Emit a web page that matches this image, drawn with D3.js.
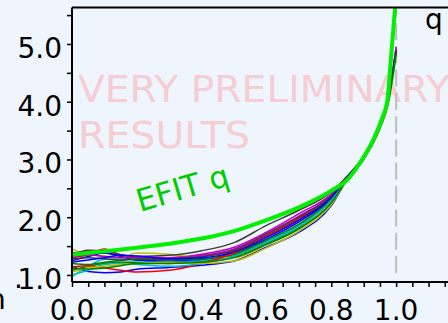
<!DOCTYPE html>
<html>
<head>
<meta charset="utf-8">
<script src="https://cdn.jsdelivr.net/npm/d3@7"></script>
<style>
  html, body { margin: 0; padding: 0; background: #eff5fd; }
  svg { display: block; }
  text { font-family: "DejaVu Sans", sans-serif; }
</style>
</head>
<body>
<script>
// Normalised radius grid shared by the reconstructed q profiles
const rhoGrid = [0, 0.05, 0.1, 0.15, 0.2, 0.3, 0.4, 0.5, 0.6, 0.7, 0.8, 0.85, 0.9, 0.95, 0.975, 0.99, 1.0];

// Reconstructed q profiles, one per time slice
const profiles = [
  [1.15, 1.06, 1.04, 1.05, 1.10, 1.13, 1.17, 1.24, 1.48, 1.74, 2.20, 2.66, 3.00, 3.54, 3.96, 4.44, 4.85],
  [1.08, 1.15, 1.20, 1.22, 1.22, 1.20, 1.24, 1.33, 1.55, 1.82, 2.26, 2.68, 3.02, 3.56, 3.99, 4.50, 4.90],
  [1.30, 1.35, 1.45, 1.35, 1.30, 1.28, 1.32, 1.42, 1.68, 1.98, 2.36, 2.70, 3.04, 3.58, 4.01, 4.52, 4.90],
  [0.97, 1.15, 1.27, 1.28, 1.25, 1.22, 1.25, 1.35, 1.58, 1.86, 2.30, 2.68, 3.02, 3.56, 3.97, 4.48, 4.85],
  [1.38, 1.40, 1.38, 1.35, 1.30, 1.30, 1.36, 1.48, 1.74, 2.06, 2.40, 2.71, 3.05, 3.59, 4.02, 4.55, 4.92],
  [1.45, 1.35, 1.33, 1.30, 1.38, 1.36, 1.30, 1.30, 1.52, 1.80, 2.26, 2.66, 3.01, 3.55, 3.96, 4.45, 4.85],
  [1.35, 1.43, 1.42, 1.35, 1.32, 1.34, 1.42, 1.56, 1.86, 2.12, 2.44, 2.72, 3.06, 3.61, 4.04, 4.55, 4.90],
  [1.25, 1.32, 1.38, 1.32, 1.26, 1.24, 1.27, 1.38, 1.62, 1.92, 2.33, 2.69, 3.03, 3.57, 4.00, 4.50, 4.88],
  [1.20, 1.18, 1.22, 1.25, 1.28, 1.26, 1.28, 1.36, 1.60, 1.88, 2.31, 2.68, 3.02, 3.56, 3.99, 4.48, 4.86],
  [1.14, 1.16, 1.12, 1.08, 1.05, 1.08, 1.20, 1.38, 1.66, 1.96, 2.35, 2.69, 3.03, 3.57, 4.00, 4.50, 4.88],
  [1.00, 1.08, 1.18, 1.20, 1.18, 1.15, 1.20, 1.32, 1.56, 1.84, 2.29, 2.67, 3.01, 3.55, 3.97, 4.46, 4.80],
  [1.30, 1.35, 1.32, 1.30, 1.32, 1.30, 1.34, 1.45, 1.72, 2.02, 2.38, 2.70, 3.04, 3.58, 4.02, 4.55, 4.95],
  [1.05, 1.12, 1.15, 1.18, 1.20, 1.22, 1.20, 1.24, 1.47, 1.76, 2.22, 2.65, 3.00, 3.54, 3.96, 4.44, 4.80],
  [1.28, 1.30, 1.28, 1.26, 1.27, 1.28, 1.32, 1.43, 1.70, 2.00, 2.37, 2.70, 3.04, 3.59, 4.01, 4.50, 4.88],
  [1.22, 1.26, 1.30, 1.34, 1.33, 1.28, 1.30, 1.40, 1.65, 1.95, 2.34, 2.69, 3.03, 3.57, 4.00, 4.50, 4.87],
  [1.12, 1.10, 1.12, 1.16, 1.20, 1.20, 1.22, 1.30, 1.53, 1.80, 2.25, 2.66, 3.01, 3.55, 3.98, 4.47, 4.84]
];

// Line colour cycle for the profiles
const profileColors = ["#0000ff", "#008000", "#ff0000", "#00bfbf", "#bf00bf", "#bfbf00", "#3f3f3f"];

// EFIT reference q profile
const efitRho = [0, 0.1, 0.2, 0.3, 0.4, 0.5, 0.6, 0.7, 0.8, 0.85, 0.894, 0.93, 0.955, 0.973, 0.985, 1.0];
const efitQ   = [1.35, 1.41, 1.47, 1.54, 1.63, 1.76, 1.95, 2.17, 2.46, 2.65, 2.99, 3.35, 3.69, 4.03, 4.82, 5.85];

// Axis ticks
const xTickValues = [0.0, 0.2, 0.4, 0.6, 0.8, 1.0];
const xTickLabels = ["0.0", "0.2", "0.4", "0.6", "0.8", "1.0"];
const yTickValues = [1, 2, 3, 4, 5];
const yTickLabels = ["1.0", "2.0", "3.0", "4.0", "5.0"];

const W = 448, H = 323;
const padL = 72, padR = 448, padT = 7.5, padB = 282;

const svg = d3.select("body").append("svg").attr("width", W).attr("height", H);
svg.append("rect").attr("width", W).attr("height", H).attr("fill", "#eff5fd");

const x = d3.scaleLinear().domain([0, 1.16]).range([padL, padR]);
const y = d3.scaleLinear().domain([0.878, 5.632]).range([padB, padT]);

svg.append("clipPath").attr("id", "plotclip")
  .append("rect").attr("x", padL).attr("y", padT).attr("width", padR - padL).attr("height", padB - padT);

// Watermark
const wm = svg.append("g").attr("fill", "#f6cdd2").attr("font-size", 37);
wm.append("text").attr("x", 78).attr("y", 102)
  .attr("textLength", 372).attr("lengthAdjust", "spacingAndGlyphs")
  .text("VERY PRELIMINARY");
wm.append("text").attr("x", 78).attr("y", 148)
  .attr("textLength", 172).attr("lengthAdjust", "spacingAndGlyphs")
  .text("RESULTS");

const plot = svg.append("g").attr("clip-path", "url(#plotclip)");

// Separatrix marker at rho = 1
plot.append("line")
  .attr("x1", x(1)).attr("x2", x(1))
  .attr("y1", 273).attr("y2", padT)
  .attr("stroke", "#bdbdbd").attr("stroke-width", 2)
  .attr("stroke-dasharray", "17,6.3");

const line = d3.line()
  .x(d => x(d[0]))
  .y(d => y(d[1]))
  .curve(d3.curveMonotoneX);

profiles.forEach((vals, i) => {
  plot.append("path")
    .datum(rhoGrid.map((r, j) => [r, vals[j]]))
    .attr("d", line)
    .attr("fill", "none")
    .attr("stroke", profileColors[i % profileColors.length])
    .attr("stroke-width", 1.5);
});

plot.append("path")
  .datum(efitRho.map((r, j) => [r, efitQ[j]]))
  .attr("d", line)
  .attr("fill", "none")
  .attr("stroke", "#00f000")
  .attr("stroke-width", 4);

// Axes
const xAxis = d3.axisBottom(x)
  .tickValues(d3.range(0, 1.16, 0.05))
  .tickSize(5)
  .tickFormat("");
const gx = svg.append("g").attr("transform", `translate(0,${padB})`).call(xAxis);

const yAxis = d3.axisLeft(y)
  .tickValues(d3.range(1, 5.6, 0.5))
  .tickSize(5)
  .tickFormat("");
const gy = svg.append("g").attr("transform", `translate(${padL},0)`).call(yAxis);

[gx, gy].forEach(g => {
  g.select(".domain").attr("stroke", "#000").attr("stroke-width", 2);
  g.selectAll(".tick line").attr("stroke", "#000").attr("stroke-width", 1.5);
});
gy.select(".domain").attr("d", `M0,${padT}V${padB}`);
gx.select(".domain").attr("d", `M${padL},0H${padR}`);

// Top border
svg.append("line").attr("x1", padL).attr("x2", padR).attr("y1", padT).attr("y2", padT)
  .attr("stroke", "#000").attr("stroke-width", 2);

// Tick labels
svg.append("g").selectAll("text").data(xTickValues).join("text")
  .attr("x", d => x(d)).attr("y", 320)
  .attr("text-anchor", "middle").attr("font-size", 28).attr("fill", "#000")
  .text((d, i) => xTickLabels[i]);

svg.append("g").selectAll("text").data(yTickValues).join("text")
  .attr("x", 62).attr("y", d => y(d) + 14)
  .attr("text-anchor", "end").attr("font-size", 28).attr("fill", "#000")
  .text((d, i) => yTickLabels[i]);

// Curve label
svg.append("text")
  .attr("transform", "translate(140,212) rotate(-16.5)")
  .attr("font-size", 31).attr("fill", "#00cc00")
  .text("EFIT q");

// Quantity label
svg.append("text").attr("x", 425).attr("y", 28.5)
  .attr("font-size", 28).attr("fill", "#000").text("q");

// Fragments of neighbouring labels at the left edge
svg.append("text").attr("x", 14).attr("y", 288).attr("font-size", 28).attr("fill", "#000").text(".");
svg.append("text").attr("x", -12).attr("y", 309).attr("font-size", 28).attr("fill", "#000").text("n");
</script>
</body>
</html>
